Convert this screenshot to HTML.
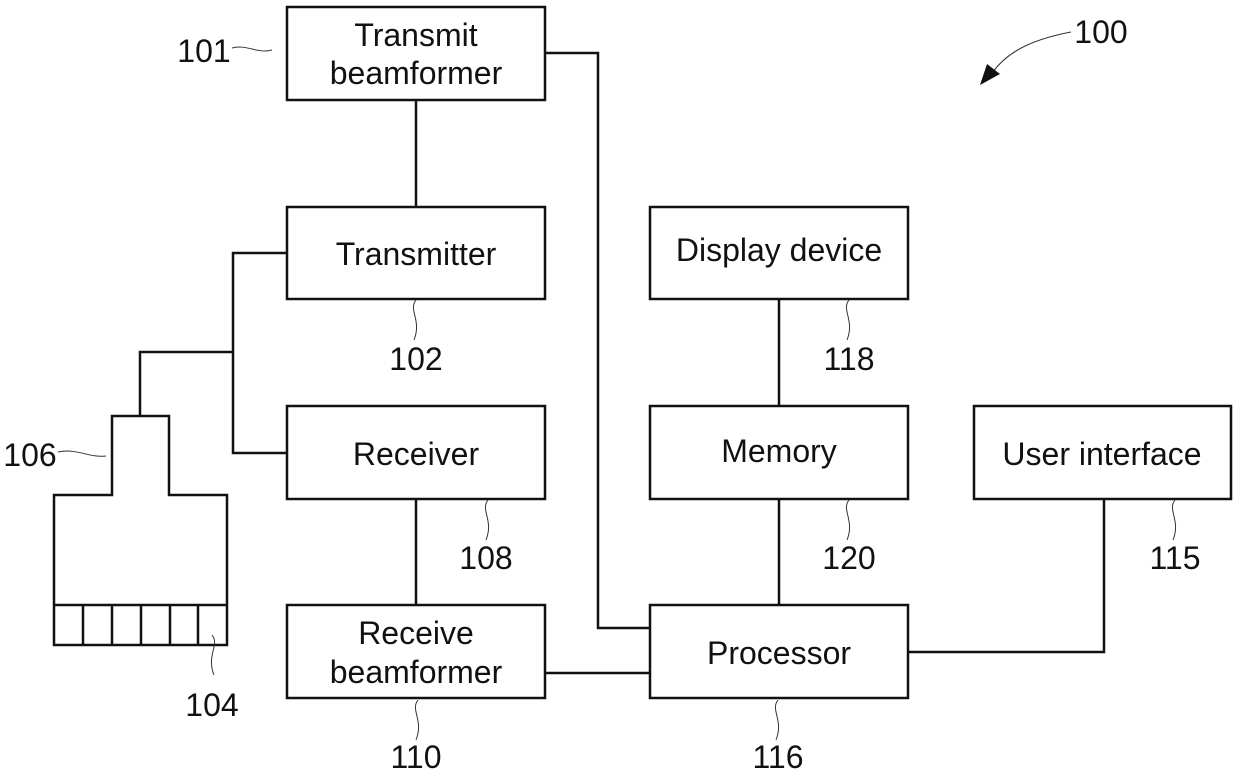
<!DOCTYPE html>
<html><head><meta charset="utf-8"><style>
html,body{margin:0;padding:0;background:#fff;}
svg{display:block;}
text{font-family:"Liberation Sans",sans-serif;fill:#111;}
</style></head><body>
<svg width="1239" height="774" viewBox="0 0 1239 774" xmlns="http://www.w3.org/2000/svg">
<g fill="none" stroke="#111" stroke-width="2.5">
<rect x="287" y="7" width="258" height="93"/>
<rect x="287" y="207" width="258" height="92"/>
<rect x="287" y="406" width="258" height="93"/>
<rect x="287" y="605" width="258" height="93"/>
<rect x="650" y="207" width="258" height="92"/>
<rect x="650" y="406" width="258" height="93"/>
<rect x="650" y="605" width="258" height="93"/>
<rect x="974" y="406" width="257" height="93"/>
<path d="M416 100V207M287 253H233V453H287M233 352H140V416M416 499V605M545 673H650M545 53H598V628H650M779 299V406M779 499V605M908 652H1104V499"/>
<path d="M112 495V416H169V495H227V645H54V495Z"/>
<path d="M54 605H227M83 605V645M112 605V645M141 605V645M170 605V645M198 605V645"/>
</g>
<g fill="none" stroke="#333" stroke-width="1">
<path d="M232 48c15-4 25 6 40 2"/>
<path d="M58 452c20-4 30 6 48 4"/>
<path d="M416 300c-8 10 6 20-2 40"/>
<path d="M488 500c-8 10 6 20-2 40"/>
<path d="M849 300c-8 10 6 20-2 40"/>
<path d="M849 500c-8 10 6 20-2 40"/>
<path d="M1175 500c-8 10 6 20-2 40"/>
<path d="M418 700c-8 10 6 20-2 40"/>
<path d="M778 700c-8 10 6 20-2 40"/>
<path d="M212 635c8 10-6 20 2 40"/>
<path d="M1071 32C1040 38 1010 48 993 72"/>
</g>
<path d="M980 85L987 64L1000 74Z" fill="#111"/>
<g font-size="32" text-anchor="middle">
<text x="416" y="46">Transmit</text>
<text x="416" y="84">beamformer</text>
<text x="416" y="265">Transmitter</text>
<text x="416" y="465">Receiver</text>
<text x="416" y="644">Receive</text>
<text x="416" y="683">beamformer</text>
<text x="779" y="261">Display device</text>
<text x="779" y="462">Memory</text>
<text x="779" y="664">Processor</text>
<text x="1102" y="465">User interface</text>
</g>
<g font-size="32" text-anchor="middle">
<text x="1101" y="43">100</text>
<text x="204" y="62">101</text>
<text x="416" y="370">102</text>
<text x="30" y="466">106</text>
<text x="486" y="569">108</text>
<text x="849" y="370">118</text>
<text x="849" y="569">120</text>
<text x="1175" y="569">115</text>
<text x="212" y="716">104</text>
<text x="416" y="768">110</text>
<text x="778" y="768">116</text>
</g>
</svg>
</body></html>
